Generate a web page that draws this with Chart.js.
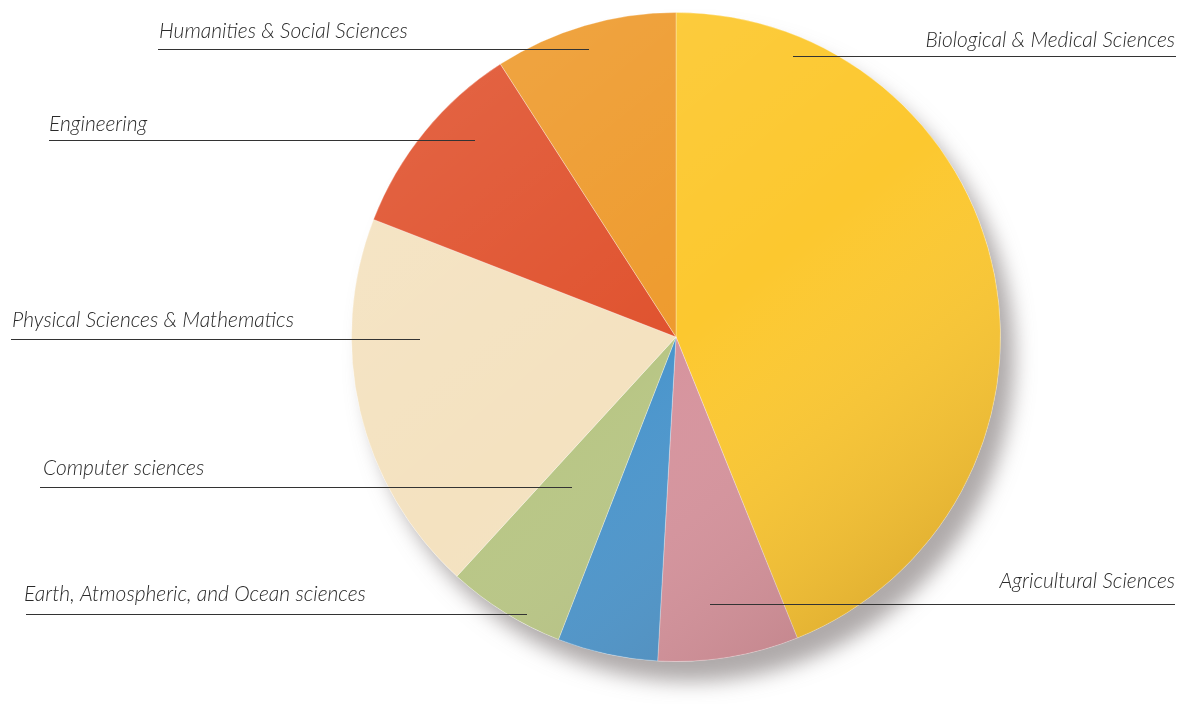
<!DOCTYPE html>
<html lang="en">
<head>
<meta charset="UTF-8">
<title>Fields of study</title>
<script src="https://cdn.jsdelivr.net/npm/chart.js"></script>
<style>
  html, body { margin: 0; padding: 0; background: #fff; }
  #wrap { width: 1178px; height: 704px; }
</style>
</head>
<body>
<div id="wrap"><canvas id="pieChart" width="1178" height="704"></canvas></div>
<script>
// slices, clockwise from 12 o'clock
const fields = [
    "Biological & Medical Sciences",
    "Agricultural Sciences",
    "Earth, Atmospheric, and Ocean sciences",
    "Computer sciences",
    "Physical Sciences & Mathematics",
    "Engineering",
    "Humanities & Social Sciences"
];
const shares = [43.9, 7.0, 5.0, 5.9, 19.1, 10.0, 9.1];
const sliceColors = ["#fcc82f", "#d6939d", "#4a95cc", "#b8c685", "#f4e2c0", "#e0532f", "#ee9b2e"];

// where each caption sits and its leader line (same order as fields)
const labelSpots = [
    { align: "right", tx: 1175, ty: 47,  x1: 793, x2: 1176, ly: 56 },
    { align: "right", tx: 1175, ty: 588, x1: 710, x2: 1175, ly: 604 },
    { align: "left",  tx: 24,   ty: 601, x1: 26,  x2: 527,  ly: 614 },
    { align: "left",  tx: 43,   ty: 475, x1: 40,  x2: 572,  ly: 487 },
    { align: "left",  tx: 12,   ty: 327, x1: 11,  x2: 420,  ly: 339 },
    { align: "left",  tx: 49,   ty: 131, x1: 49,  x2: 475,  ly: 140 },
    { align: "left",  tx: 159,  ty: 38,  x1: 158, x2: 589,  ly: 49 }
];

function pieGeom(chart) {
    const arc = chart.getDatasetMeta(0).data[0];
    return arc.getProps(["x", "y", "outerRadius"], true);
}

const pieShadow = {
    id: "pieShadow",
    beforeDatasetsDraw(chart) {
        const g = pieGeom(chart);
        const ctx = chart.ctx;
        ctx.save();
        ctx.shadowColor = "rgba(110,100,100,0.55)";
        ctx.shadowBlur = 20;
        ctx.shadowOffsetX = 14;
        ctx.shadowOffsetY = 20;
        ctx.fillStyle = "#fff";
        ctx.beginPath();
        ctx.arc(g.x, g.y, g.outerRadius, 0, Math.PI * 2);
        ctx.fill();
        ctx.restore();
    }
};

const pieShade = {
    id: "pieShade",
    afterDatasetsDraw(chart) {
        const g = pieGeom(chart);
        const ctx = chart.ctx;
        ctx.save();
        ctx.beginPath();
        ctx.arc(g.x, g.y, g.outerRadius, 0, Math.PI * 2);
        ctx.clip();
        const grad = ctx.createLinearGradient(g.x - g.outerRadius, g.y - g.outerRadius, g.x + g.outerRadius * 0.6, g.y + g.outerRadius);
        grad.addColorStop(0, "rgba(255,255,255,0.12)");
        grad.addColorStop(0.55, "rgba(255,255,255,0)");
        grad.addColorStop(1, "rgba(90,50,40,0.2)");
        ctx.fillStyle = grad;
        ctx.fillRect(g.x - g.outerRadius, g.y - g.outerRadius, g.outerRadius * 2, g.outerRadius * 2);
        ctx.restore();
    }
};

const captions = {
    id: "captions",
    afterDraw(chart) {
        const ctx = chart.ctx;
        ctx.save();
        ctx.font = "italic 300 21px Lato";
        ctx.fillStyle = "#2a2a2a";
        ctx.strokeStyle = "#333";
        ctx.lineWidth = 1;
        fields.forEach((name, i) => {
            const s = labelSpots[i];
            ctx.textAlign = s.align;
            ctx.textBaseline = "alphabetic";
            ctx.fillText(name, s.tx, s.ty);
            ctx.beginPath();
            ctx.moveTo(s.x1, s.ly + 0.5);
            ctx.lineTo(s.x2, s.ly + 0.5);
            ctx.stroke();
        });
        ctx.restore();
    }
};

new Chart(document.getElementById("pieChart"), {
    type: "pie",
    data: {
        labels: fields,
        datasets: [{
            data: shares,
            backgroundColor: sliceColors,
            borderColor: "rgba(255,255,255,0.3)",
            borderWidth: 1
        }]
    },
    options: {
        responsive: false,
        animation: false,
        layout: { padding: { left: 351, right: 177, top: 12, bottom: 42 } },
        plugins: {
            legend: { display: false },
            tooltip: { enabled: false }
        }
    },
    plugins: [pieShadow, pieShade, captions]
});
</script>
</body>
</html>
